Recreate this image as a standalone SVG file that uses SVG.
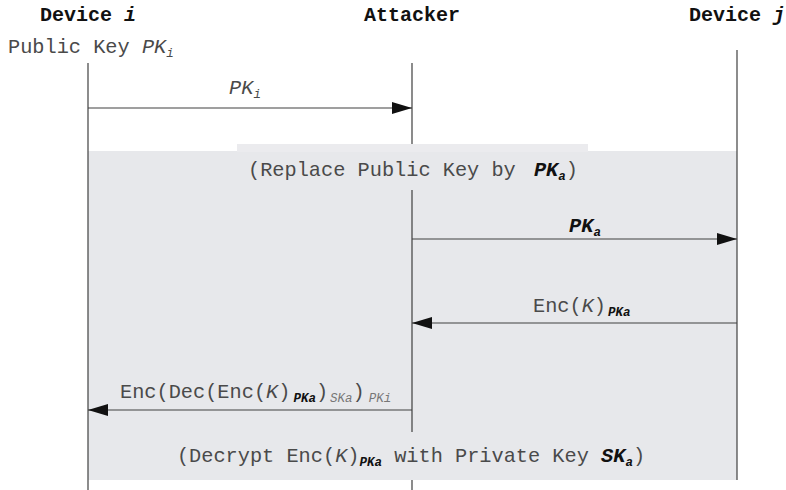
<svg xmlns="http://www.w3.org/2000/svg" width="786" height="490" viewBox="0 0 786 490">
<defs>
<style>
.t{font-family:"Liberation Mono","Courier New",monospace;font-size:20.3px;fill:#4a4a4a}
.h{font-family:"Liberation Mono","Courier New",monospace;font-size:20px;font-weight:bold;fill:#111}
.it{font-style:italic}
.b{font-weight:bold;fill:#111}
.sub{font-size:12.5px}
.life{stroke:#404040;stroke-width:1.2;fill:none}
.msg{stroke:#404040;stroke-width:1.2;fill:none;marker-end:url(#ah)}
.note{fill:#e7e8eb}
</style>
<marker id="ah" markerUnits="userSpaceOnUse" markerWidth="20" markerHeight="12" refX="20" refY="6" orient="auto">
<path d="M0,0 L20,6 L0,12 z" fill="#111"/>
</marker>
</defs>
<rect width="786" height="490" fill="#fff"/>

<g id="notes">
<rect class="note" x="88" y="151" width="649" height="329"/>
<rect x="237" y="144" width="351" height="8" fill="#ebebee"/>
</g>

<g id="device-i">
<text class="h" x="88" y="21" text-anchor="middle">Device <tspan class="it">i</tspan></text>
<text class="t" x="8" y="53">Public Key  <tspan class="it">PK</tspan><tspan class="it sub" dy="4">i</tspan></text>
<line class="life" x1="88" y1="63" x2="88" y2="490"/>
</g>

<g id="attacker">
<text class="h" x="412" y="21" text-anchor="middle">Attacker</text>
<path class="life" d="M412,63 V144 M412,190 V432 M412,480 V490"/>
</g>

<g id="device-j">
<text class="h" x="737" y="21" text-anchor="middle">Device <tspan class="it">j</tspan></text>
<line class="life" x1="737" y1="50" x2="737" y2="480"/>
</g>

<g id="note-replace">
<text class="t" x="413" y="176" text-anchor="middle">(Replace Public Key by  <tspan class="it b" dx="6">PK</tspan><tspan class="it b sub" dy="4">a</tspan><tspan dy="-4">)</tspan></text>
</g>

<g id="note-decrypt">
<text class="t" x="411" y="462" text-anchor="middle">(Decrypt Enc(<tspan class="it">K</tspan>)<tspan class="it b sub" dy="4">PKa</tspan><tspan dy="-4"> with Private Key  </tspan><tspan class="it b">SK</tspan><tspan class="it b sub" dy="4">a</tspan><tspan dy="-4">)</tspan></text>
</g>

<g id="connectors">
<line class="msg" x1="88" y1="108" x2="412" y2="108"/>
<text class="t it" x="245" y="94" text-anchor="middle" fill="#666">PK<tspan class="sub" dy="4">i</tspan></text>

<line class="msg" x1="412" y1="239" x2="737" y2="239"/>
<text class="t it b" x="585" y="232" text-anchor="middle">PK<tspan class="sub" dy="4">a</tspan></text>

<line class="msg" x1="737" y1="323" x2="412" y2="323"/>
<text class="t" x="533" y="312">Enc(<tspan class="it">K</tspan>)<tspan class="it b sub" dx="2" dy="4">PKa</tspan></text>

<line class="msg" x1="412" y1="410" x2="88" y2="410"/>
<text class="t" x="120" y="398">Enc(Dec(Enc(<tspan class="it">K</tspan>)<tspan class="it b sub" dx="3" dy="4">PKa</tspan><tspan dy="-4">)</tspan><tspan class="it sub" dx="2" dy="4" fill="#777">SKa</tspan><tspan dy="-4">)</tspan><tspan class="it sub" dx="4" dy="4" fill="#777">PKi</tspan></text>
</g>
</svg>
